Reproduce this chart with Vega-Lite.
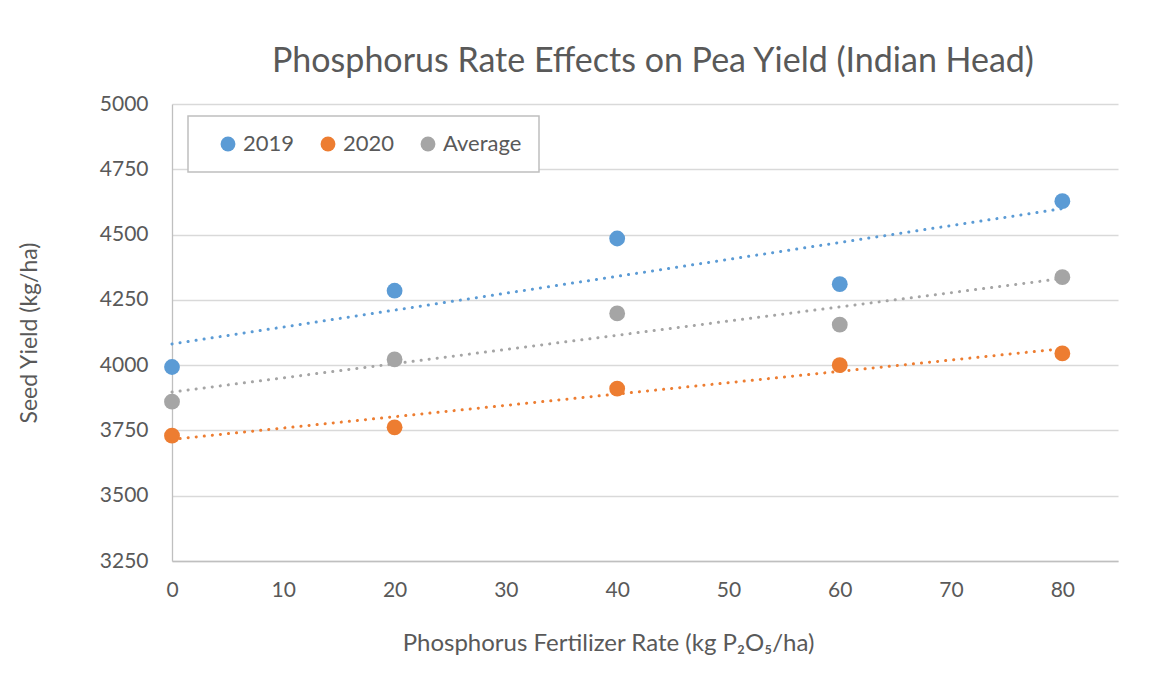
{
  "$schema": "https://vega.github.io/schema/vega-lite/v6.json",
  "autosize": "none",
  "width": 946,
  "height": 457,
  "padding": {"left": 172, "top": 104, "right": 32, "bottom": 114},
  "background": "white",
  "title": {
    "text": "Phosphorus Rate Effects on Pea Yield (Indian Head)",
    "fontSize": 34,
    "font": "Lato",
    "fontWeight": "normal",
    "color": "#595959",
    "anchor": "middle",
    "offset": 14,
    "dx": 8
  },
  "config": {
    "font": "Lato",
    "view": {"stroke": null},
    "axis": {
      "labelFont": "Lato",
      "labelFontSize": 21,
      "labelColor": "#595959",
      "titleFont": "Lato",
      "titleFontSize": 23,
      "titleFontWeight": "normal",
      "titleColor": "#595959",
      "gridColor": "#d9d9d9",
      "gridWidth": 1.3,
      "domainColor": "#bfbfbf",
      "domainWidth": 1.3,
      "ticks": false,
      "labelFlush": false
    },
    "legend": {
      "orient": "none",
      "legendX": 16,
      "legendY": 12,
      "direction": "horizontal",
      "strokeColor": "#bfbfbf",
      "strokeWidth": 1.5,
      "fillColor": "white",
      "padding": 17,
      "symbolType": "circle",
      "symbolSize": 220,
      "symbolStrokeWidth": 0,
      "symbolOffset": 12,
      "labelFont": "Lato",
      "labelFontSize": 22,
      "labelColor": "#595959",
      "labelOffset": 4,
      "columnPadding": 10
    }
  },
  "data": {
    "values": [
      {"rate": 0, "yield": 3993, "series": "2019"},
      {"rate": 20, "yield": 4285, "series": "2019"},
      {"rate": 40, "yield": 4485, "series": "2019"},
      {"rate": 60, "yield": 4310, "series": "2019"},
      {"rate": 80, "yield": 4628, "series": "2019"},
      {"rate": 0, "yield": 3730, "series": "2020"},
      {"rate": 20, "yield": 3762, "series": "2020"},
      {"rate": 40, "yield": 3910, "series": "2020"},
      {"rate": 60, "yield": 4000, "series": "2020"},
      {"rate": 80, "yield": 4045, "series": "2020"},
      {"rate": 0, "yield": 3860, "series": "Average"},
      {"rate": 20, "yield": 4022, "series": "Average"},
      {"rate": 40, "yield": 4198, "series": "Average"},
      {"rate": 60, "yield": 4155, "series": "Average"},
      {"rate": 80, "yield": 4337, "series": "Average"}
    ]
  },
  "layer": [
    {
      "mark": {"type": "point", "filled": true, "shape": "circle", "size": 250, "opacity": 1},
      "encoding": {
        "x": {
          "field": "rate", "type": "quantitative",
          "scale": {"domain": [0, 85], "nice": false},
          "axis": {"values": [0, 10, 20, 30, 40, 50, 60, 70, 80], "grid": false, "labelPadding": 18,
            "title": "Phosphorus Fertilizer Rate (kg P₂O₅/ha)", "titlePadding": 31, "titleX": 436, "titleFontSize": 24}
        },
        "y": {
          "field": "yield", "type": "quantitative",
          "scale": {"domain": [3250, 5000], "nice": false, "zero": false},
          "axis": {"values": [3250, 3500, 3750, 4000, 4250, 4500, 4750, 5000], "labelPadding": 24, "format": "d",
            "title": "Seed Yield (kg/ha)", "titlePadding": 58}
        },
        "color": {
          "field": "series", "type": "nominal", "title": null,
          "scale": {"domain": ["2019", "2020", "Average"], "range": ["#5b9bd5", "#ed7d31", "#a5a5a5"]}
        }
      }
    },
    {
      "transform": [
        {"regression": "yield", "on": "rate", "groupby": ["series"], "extent": [0, 80]}
      ],
      "mark": {"type": "line", "strokeWidth": 3, "strokeDash": [0.1, 8], "strokeCap": "round"},
      "encoding": {
        "x": {"field": "rate", "type": "quantitative"},
        "y": {"field": "yield", "type": "quantitative"},
        "color": {"field": "series", "type": "nominal", "title": null}
      }
    }
  ]
}
